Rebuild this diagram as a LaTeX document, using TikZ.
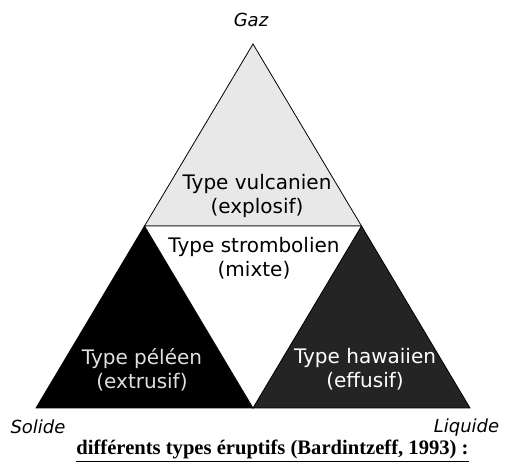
\documentclass[tikz,border=0pt]{standalone}
\usepackage{fontspec}
\setmainfont{DejaVu Sans}
\newfontfamily\capfont{Liberation Serif}
\usetikzlibrary{positioning}

\begin{document}
\begin{tikzpicture}[x=1pt, y=-1pt,
  zone/.style={draw=black, line width=0.8pt, line join=miter, fill=#1},
  lbl/.style={font=\fontsize{20}{24}\selectfont, align=center, inner sep=0pt, text=#1},
  phase/.style={font=\fontsize{18}{22}\selectfont\itshape, inner sep=0pt, anchor=base}]
  \useasboundingbox (0,0) rectangle (507,462);
  % sommets et milieux
  \coordinate (gaz) at (253,44);
  \coordinate (sol) at (36,408);
  \coordinate (liq) at (470,408);
  \coordinate (gs) at (144.5,226);
  \coordinate (gl) at (361.5,226);
  \coordinate (sl) at (253,408);
  % zones
  \draw[zone=black!9] (gaz) -- (gs) -- (gl) -- cycle;
  \draw[zone=black] (gs) -- (sol) -- (sl) -- cycle;
  \draw[zone=black!86] (gl) -- (sl) -- (liq) -- cycle;
  \draw[zone=white] (gs) -- (gl) -- (sl) -- cycle;
  % textes
  \node[lbl=black] (vulc) at (257,195.5) {Type vulcanien\\(explosif)};
  \node[lbl=black] (strom) at (254,258.5) {Type strombolien\\(mixte)};
  \node[lbl=black!12] (pele) at (142,369.5) {Type péléen\\(extrusif)};
  \node[lbl=white] (hawa) at (365,369.5) {Type hawaiien\\(effusif)};
  \node[phase] (lgaz) at (251,27) {Gaz};
  \node[phase] (lsol) at (38,434) {Solide};
  \node[phase] (lliq) at (466.5,433) {Liquide};
  \node[font=\capfont\bfseries\fontsize{20.6}{24}\selectfont, inner sep=0pt, anchor=base] (cap)
    at (272.5,455) {\underline{différents types éruptifs (Bardintzeff, 1993) :}};
\end{tikzpicture}
\end{document}
